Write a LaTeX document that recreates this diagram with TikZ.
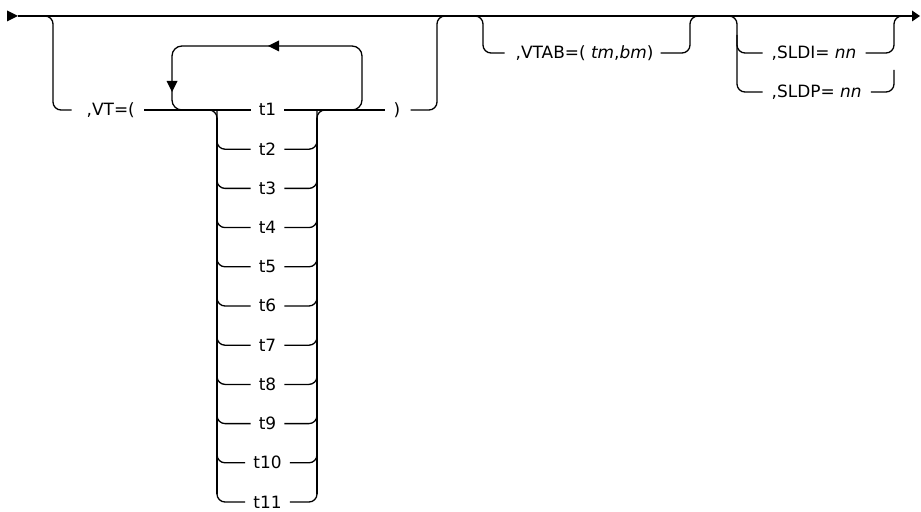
\documentclass[tikz,border=0pt]{standalone}
\usepackage{fontspec}
\setmainfont{DejaVu Sans}
\begin{document}
\begin{tikzpicture}[x=1bp,y=-1bp,
  ln/.style={line width=1.3bp, rounded corners=8bp},
  vln/.style={line width=1.8bp},
  lbl/.style={font=\fontsize{17}{20}\selectfont, inner sep=0pt, anchor=base west},
  tlbl/.style={font=\fontsize{17}{20}\selectfont, inner sep=0pt, anchor=base},
  tip/.style={fill=black}]
\useasboundingbox (0,0) rectangle (921,512);

% row levels
\coordinate (yM) at (0,16);
\coordinate (yA) at (0,53);
\coordinate (yB) at (0,92);
\coordinate (yV) at (0,110);

% labels
\node[lbl] (vt) at (86.5,116) {,VT=(};
\node[tlbl] (rp) at (397,116) {)};
\node[lbl] (vtab) at (515.5,59) {,VTAB=( \textit{tm},\textit{bm})};
\node[lbl] (sldi) at (771.5,59) {,SLDI= \textit{nn}};
\node[lbl] (sldp) at (771.5,98) {,SLDP= \textit{nn}};
\foreach \i in {1,...,11}{
  \pgfmathsetmacro{\yy}{110+39.2*(\i-1)}
  \node[tlbl] (t\i) at (267.5,\yy+6) {t\i};
  \coordinate (y\i) at (0,\yy);
}

% main line and end arrows
\coordinate (start) at (18,16);
\coordinate (end) at (912,16);
\draw[line width=1.3bp] (start) -- (end);
\fill[tip] (start) -- (7,10.5) -- (7,21.5) -- cycle;
\fill[tip] (920,16) -- (end |- 0,10.5) -- (end |- 0,21.5) -- cycle;

% optional VT group
\draw[ln] (36,16) -- (53,16) -- (53,110) -- ([xshift=-15bp]vt.west |- yV);
\draw[ln] ([xshift=9bp]vt.east |- yV) -- ([xshift=-8bp]t1.west |- yV);
\draw[ln] ([xshift=8bp]t1.east |- yV) -- ([xshift=-9bp]rp.west |- yV);
\draw[ln] ([xshift=10bp]rp.east |- yV) -- (437,110) -- (437,16) -- (454,16);

% repeat loop
\draw[ln, rounded corners=10bp] (335,110) -- (362,110) -- (362,46) -- (172,46) -- (172,110) -- (200,110);
\fill[tip] (268,46) -- (279,40.5) -- (279,51.5) -- cycle;
\fill[tip] (172,92) -- (166.5,81) -- (177.5,81) -- cycle;

% choice t1 ... t11
\draw[ln] (198,110) -- (217,110) -- (217,135);
\draw[ln] (317,135) -- (317,110) -- (336,110);
\foreach \i [count=\p from 1] in {2,...,11}{
  \draw[ln] (217,0 |- y\p) -- (217,0 |- y\i) -- ([xshift=-8bp]t\i.west |- y\i);
  \draw[ln] ([xshift=8bp]t\i.east |- y\i) -- (317,0 |- y\i) -- (317,0 |- y\p);
}
\draw[vln] (217,118) -- (217,494);
\draw[vln] (317,118) -- (317,494);

% optional VTAB
\draw[ln] (466,16) -- (483,16) -- (483,53) -- ([xshift=-11bp]vtab.west |- yA);
\draw[ln] ([xshift=7bp]vtab.east |- yA) -- (690,53) -- (690,16) -- (707,16);

% optional SLDI / SLDP
\draw[ln] (720,16) -- (737,16) -- (737,92) -- ([xshift=-9bp]sldp.west |- yB);
\draw[ln] (737,35) -- (737,53) -- ([xshift=-9bp]sldi.west |- yA);
\draw[ln] ([xshift=9bp]sldi.east |- yA) -- (894,53) -- (894,16) -- (911,16);
\draw[ln] ([xshift=9bp]sldp.east |- yB) -- (894,92) -- (894,70);
\end{tikzpicture}
\end{document}
